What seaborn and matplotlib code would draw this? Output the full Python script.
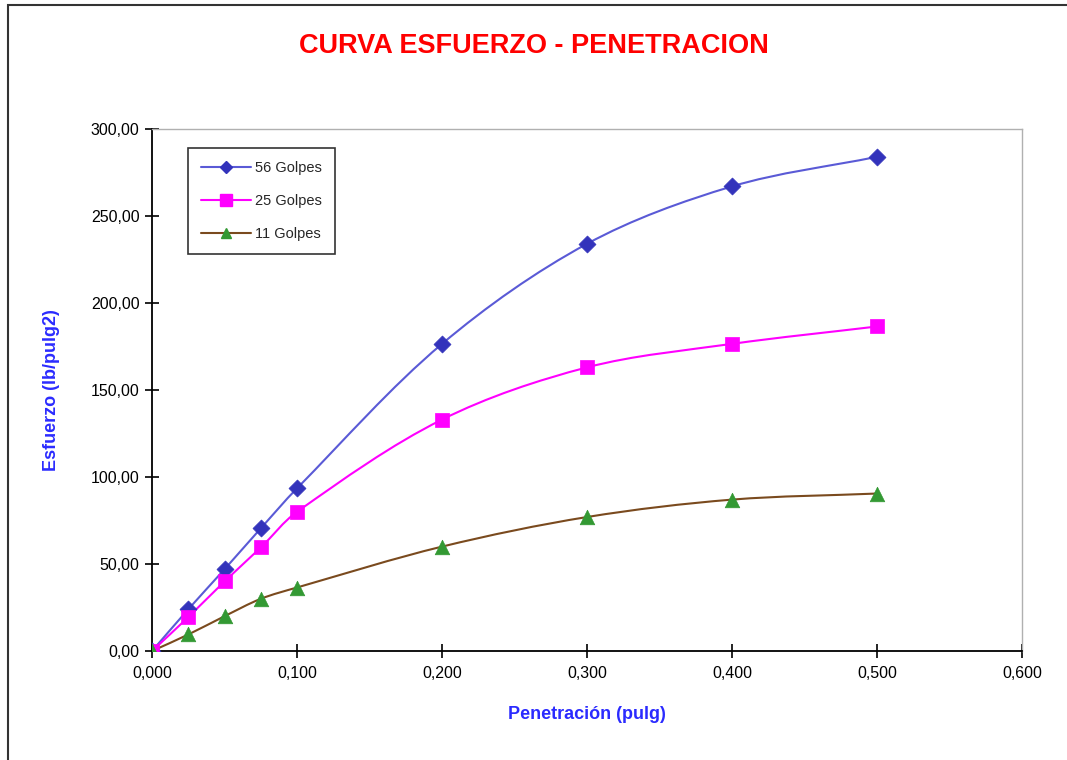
import numpy as np
import pandas as pd
import matplotlib
matplotlib.use("Agg")
import matplotlib.pyplot as plt
from matplotlib.path import Path
from matplotlib.patches import PathPatch, Rectangle
from matplotlib.ticker import FuncFormatter, MultipleLocator
from matplotlib.lines import Line2D
import seaborn as sns

penetracion = [0.0, 0.025, 0.05, 0.075, 0.1, 0.2, 0.3, 0.4, 0.5]
golpes_56 = [0.0, 24.0, 47.0, 70.5, 93.5, 176.5, 234.0, 267.0, 284.0]
golpes_25 = [0.0, 19.5, 40.0, 59.5, 80.0, 133.0, 163.0, 176.5, 186.5]
golpes_11 = [0.0, 9.5, 20.0, 30.0, 36.5, 60.0, 77.0, 87.0, 90.5]
series_names = ["56 Golpes", "25 Golpes", "11 Golpes"]

sns.set_theme(style="white")
plt.rcParams["font.family"] = ["Liberation Sans Narrow", "Liberation Sans", "DejaVu Sans"]

fig = plt.figure(figsize=(10.67, 7.6), dpi=100)
ax = fig.add_axes([0.1425, 0.1434, 0.9578 - 0.1425, 0.8303 - 0.1434])

# outer frame of chart area
fig.patches.append(Rectangle((8 / 1067, -0.01), 1.0, 1 - 5 / 760 + 0.01, transform=fig.transFigure,
                             fill=False, edgecolor="#333333", linewidth=1.5))

line_colors = ["#5a5ad6", "#ff00ff", "#7a4a1e"]
marker_colors = ["#3333bb", "#ff00ff", "#339933"]
markers = ["D", "s", "^"]
msizes = [75, 110, 110]

XMAX, YMAX = 0.6, 300.0
SX, SY = 870 / XMAX, 522 / YMAX  # approximate pixel scale for smoothing


def smooth_path(xs, ys):
    pts = np.column_stack([np.asarray(xs) * SX, np.asarray(ys) * SY])
    n = len(pts)
    d = np.linalg.norm(np.diff(pts, axis=0), axis=1)
    tang = np.zeros_like(pts)
    for i in range(n):
        if i == 0:
            tang[i] = (pts[1] - pts[0]) / d[0]
        elif i == n - 1:
            tang[i] = (pts[-1] - pts[-2]) / d[-1]
        else:
            tang[i] = (pts[i + 1] - pts[i - 1]) / (d[i - 1] + d[i])
    verts = [pts[0]]
    codes = [Path.MOVETO]
    for i in range(n - 1):
        c1 = pts[i] + tang[i] * d[i] / 3
        c2 = pts[i + 1] - tang[i + 1] * d[i] / 3
        verts += [c1, c2, pts[i + 1]]
        codes += [Path.CURVE4] * 3
    verts = np.array(verts)
    verts[:, 0] /= SX
    verts[:, 1] /= SY
    return Path(verts, codes)


df = pd.DataFrame({
    "x": penetracion * 3,
    "y": golpes_56 + golpes_25 + golpes_11,
    "serie": sum([[n] * len(penetracion) for n in series_names], []),
})

for i, name in enumerate(series_names):
    sub = df[df["serie"] == name]
    path = smooth_path(sub["x"].values, sub["y"].values)
    ax.add_patch(PathPatch(path, facecolor="none", edgecolor=line_colors[i], lw=1.5, zorder=2))
    sns.scatterplot(data=sub, x="x", y="y", marker=markers[i], s=msizes[i], color=marker_colors[i],
                    edgecolor=marker_colors[i], linewidth=0.5, ax=ax, zorder=3, legend=False)

ax.set_xlim(0, XMAX)
ax.set_ylim(0, YMAX)
ax.xaxis.set_major_locator(MultipleLocator(0.1))
ax.yaxis.set_major_locator(MultipleLocator(50))
ax.xaxis.set_major_formatter(FuncFormatter(lambda v, p: f"{v:.3f}".replace(".", ",")))
ax.yaxis.set_major_formatter(FuncFormatter(lambda v, p: f"{v:.2f}".replace(".", ",")))
ax.tick_params(axis="both", direction="inout", length=10, width=1.2, colors="black",
               labelsize=11.5, labelcolor="black", bottom=True, left=True, pad=4)
ax.tick_params(axis="x", pad=6)
for s in ["left", "bottom"]:
    ax.spines[s].set_color("black")
    ax.spines[s].set_linewidth(1.3)
for s in ["top", "right"]:
    ax.spines[s].set_color("#b0b0b0")
    ax.spines[s].set_linewidth(1.0)

ax.set_xlabel("Penetración (pulg)", color="#2b2bff", fontsize=13, fontweight="bold", labelpad=18)
ax.set_ylabel("Esfuerzo (lb/pulg2)", color="#2b2bff", fontsize=13, fontweight="bold", labelpad=22)

fig.text(0.5, 1 - 46 / 760, "CURVA ESFUERZO - PENETRACION", color="#ff0000", fontsize=19.5,
         fontweight="bold", ha="center", va="center")

handles = [Line2D([0], [0], color=line_colors[i], lw=1.5, marker=markers[i],
                  markersize=[6, 8, 7][i], markerfacecolor=marker_colors[i],
                  markeredgecolor=marker_colors[i]) for i in range(3)]
leg = ax.legend(handles, series_names, loc="upper left", bbox_to_anchor=(36 / 870, 1 - 19 / 522),
                frameon=True, fancybox=False, edgecolor="black", fontsize=10.5,
                labelspacing=1.3, handlelength=3.4, borderpad=0.9, handletextpad=0.3,
                borderaxespad=0)
leg.get_frame().set_linewidth(1.2)

fig.savefig("out.png", dpi=100, facecolor="white")
